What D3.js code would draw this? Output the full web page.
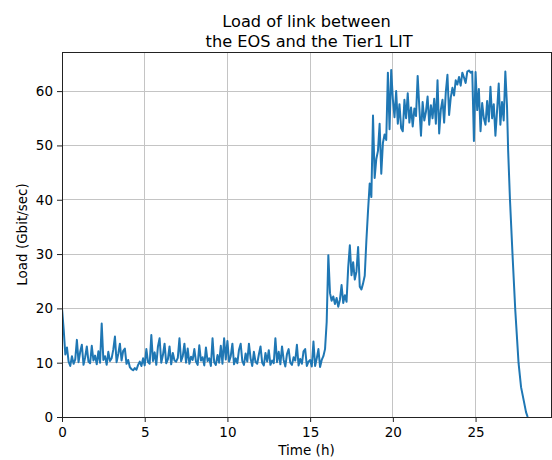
<!DOCTYPE html>
<html>
<head>
<meta charset="utf-8">
<script src="https://cdnjs.cloudflare.com/ajax/libs/d3/7.8.5/d3.min.js"></script>
<style>
body { margin: 0; background: #fff; }
svg text { font-family: 'DejaVu Sans', sans-serif; fill: #000; }
</style>
</head>
<body>
<div id="chart"></div>
<script>
// hours between samples of loadMain (first sample at 0 h)
var sampleStep = 0.1

// load in Gbit/sec, one row per hour (0.0 .. 26.9 h)
var loadMain = [
	20.0, 16.2, 11.5, 12.8, 10.2, 9.4, 11.2, 9.8, 10.6, 14.2,
	10.1, 12.0, 13.3, 9.6, 11.0, 13.0, 10.2, 9.9, 13.1, 10.4,
	11.3, 9.7, 12.1, 10.0, 17.2, 10.5, 11.2, 9.6, 12.0, 10.3,
	10.8, 12.4, 14.8, 10.1, 11.6, 13.5, 10.4, 12.2, 12.6, 9.8,
	10.5, 9.2, 8.8, 8.6, 9.0, 8.7, 9.6, 10.2, 9.4, 10.8,
	9.5, 12.5, 10.1, 9.8, 15.1, 10.3, 11.9, 9.6, 13.0, 14.5,
	10.0, 11.4, 13.5, 9.9, 10.6, 13.0, 9.7, 11.8, 10.4, 10.2,
	10.9, 14.5, 10.3, 11.2, 13.5, 10.0, 12.6, 9.8, 11.1, 10.5,
	12.5, 10.2, 9.6, 13.2, 10.4, 11.0, 9.5, 12.8, 10.3, 10.8,
	9.4, 14.5, 10.1, 9.6, 11.4, 10.0, 13.1, 9.8, 14.5, 10.6,
	14.0, 10.2, 11.2, 13.5, 9.7, 10.8, 9.9, 12.4, 13.5, 10.3,
	9.6, 11.7, 10.2, 13.5, 10.8, 9.4, 12.0, 10.1, 9.8, 11.5,
	13.0, 10.0, 9.5, 11.8, 10.2, 12.3, 9.6, 10.4, 9.9, 14.5,
	10.1, 12.0, 9.7, 13.0, 10.5, 9.3, 11.6, 12.5, 10.0, 9.6,
	11.0, 10.4, 13.3, 9.5, 10.7, 9.8, 12.1, 12.5, 9.4, 10.2,
	10.5, 9.3, 13.9, 9.4, 10.8, 12.5, 9.2, 10.5, 11.2, 12.5,
	17.5, 29.8, 22.8, 21.4, 22.2, 20.8, 21.9, 20.3, 21.6, 24.3,
	21.0, 22.4, 21.2, 27.5, 31.6, 26.1, 28.5, 25.3, 26.8, 31.3,
	24.0, 23.5, 24.6, 26.0, 32.5, 38.0, 43.0, 40.5, 55.5, 44.0,
	47.5, 49.0, 54.0, 44.8, 50.5, 52.0, 51.0, 63.4, 53.0, 63.9,
	58.5, 55.2, 60.0, 54.0, 57.6, 53.2, 52.6, 58.4, 55.0, 59.6,
	54.2, 57.0, 53.5, 56.8, 55.4, 62.8, 57.0, 51.8, 58.0, 54.6,
	56.2, 59.0, 53.8, 57.4, 55.0, 58.6, 54.0, 62.0, 52.2, 56.6,
	58.4, 54.2, 59.8, 63.0, 55.6, 58.8, 60.6, 59.2, 62.0, 61.2,
	62.6, 61.0, 63.4, 62.5, 61.5, 63.6, 63.8, 63.4, 63.6, 50.8,
	63.5, 56.5, 60.4, 52.6, 57.8, 55.0, 53.8, 58.2, 54.4, 60.8,
	55.0, 57.6, 51.8, 56.4, 61.4, 53.8, 58.0, 54.6, 63.6, 57.3
]

// the ramp down at the end of the transfer
var tailHours = [26.97, 27.08, 27.24, 27.4, 27.6, 27.75, 27.94, 28.05, 28.15]
var tailLoad = [49.0, 40.0, 29.5, 19.7, 9.9, 5.5, 2.6, 0.9, 0.0]

var xTicks = [0, 5, 10, 15, 20, 25]
var yTicks = [0, 10, 20, 30, 40, 50, 60]
var xDomain = [0, 29.56]
var yDomain = [0, 67.2]
var titleLines = ['Load of link between', ' the EOS and the Tier1 LIT']
var xLabel = 'Time (h)'
var yLabel = 'Load (Gbit/sec)'

var margins = {top: 52, right: 1, bottom: 43, left: 62},
	width = 552 - margins.left - margins.right,
	height = 460 - margins.top - margins.bottom

var points = loadMain.map(function(v, i) { return [i * sampleStep, v] })
tailHours.forEach(function(h, i) { points.push([h, tailLoad[i]]) })

var x = d3.scaleLinear().domain(xDomain).range([0, width])
var y = d3.scaleLinear().domain(yDomain).range([height, 0])

var vis = d3.select('#chart').append('svg')
	.attr('width', 552)
	.attr('height', 460)

var vis_group = vis.append('g')
	.attr('transform', 'translate(' + margins.left + ',' + margins.top + ')')

vis_group.append('defs').append('clipPath')
	.attr('id', 'plot_clip')
	.append('rect')
	.attr('width', width)
	.attr('height', height)

// grid
vis_group.append('g').selectAll('line.vgrid')
	.data(xTicks)
	.enter().append('line')
	.attr('x1', function(d) { return x(d) })
	.attr('x2', function(d) { return x(d) })
	.attr('y1', 0)
	.attr('y2', height)
	.attr('stroke', '#c4c4c4')
	.attr('stroke-width', 1)
	.attr('shape-rendering', 'crispEdges')

vis_group.append('g').selectAll('line.hgrid')
	.data(yTicks)
	.enter().append('line')
	.attr('x1', 0)
	.attr('x2', width)
	.attr('y1', function(d) { return y(d) })
	.attr('y2', function(d) { return y(d) })
	.attr('stroke', '#c4c4c4')
	.attr('stroke-width', 1)
	.attr('shape-rendering', 'crispEdges')

var line = d3.line()
	.x(function(d) { return x(d[0]) })
	.y(function(d) { return y(d[1]) })

vis_group.append('path')
	.datum(points)
	.attr('clip-path', 'url(#plot_clip)')
	.attr('d', line)
	.attr('fill', 'none')
	.attr('stroke', '#1f77b4')
	.attr('stroke-width', 2)
	.attr('stroke-linejoin', 'round')

// axes
var xAxis = vis_group.append('g')
	.attr('transform', 'translate(0,' + height + ')')
	.call(d3.axisBottom(x).tickValues(xTicks).tickFormat(d3.format('d')).tickSize(5).tickPadding(5).tickSizeOuter(0))

var yAxis = vis_group.append('g')
	.call(d3.axisLeft(y).tickValues(yTicks).tickFormat(d3.format('d')).tickSize(5).tickPadding(4).tickSizeOuter(0))

;[xAxis, yAxis].forEach(function(a) {
	a.select('.domain').remove()
	a.selectAll('text').attr('font-size', '13.5px').attr('font-family', 'DejaVu Sans, sans-serif')
	a.selectAll('line').attr('stroke', '#222').attr('stroke-width', 1)
})

// frame
vis_group.append('rect')
	.attr('x', 0)
	.attr('y', 0)
	.attr('width', width)
	.attr('height', height)
	.attr('fill', 'none')
	.attr('stroke', '#222')
	.attr('stroke-width', 1)
	.attr('shape-rendering', 'crispEdges')

vis_group.append('text')
	.attr('x', width / 2)
	.attr('y', height + 38)
	.attr('text-anchor', 'middle')
	.attr('font-size', '13.5px')
	.text(xLabel)

vis_group.append('text')
	.attr('transform', 'translate(-35,' + (height / 2) + ') rotate(-90)')
	.attr('text-anchor', 'middle')
	.attr('font-size', '13.5px')
	.text(yLabel)

vis_group.append('g').selectAll('text.title')
	.data(titleLines)
	.enter().append('text')
	.attr('x', width / 2)
	.attr('y', function(d, i) { return -25 + i * 19.5 })
	.attr('text-anchor', 'middle')
	.attr('font-size', '16.2px')
	.style('white-space', 'pre')
	.text(function(d) { return d })
</script>
</body>
</html>
